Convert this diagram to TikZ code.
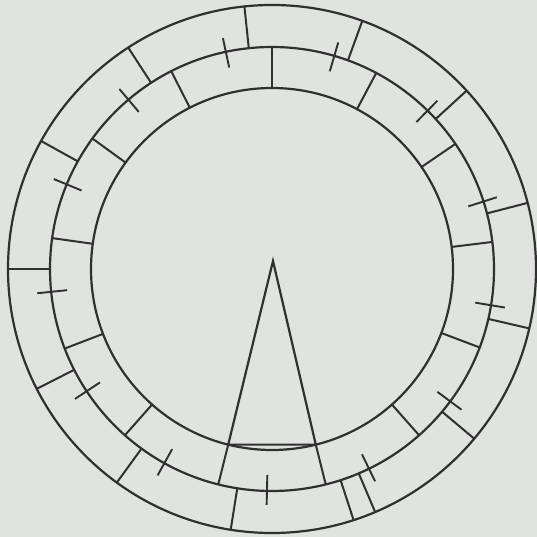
\documentclass[tikz,border=0pt]{standalone}
\definecolor{ink}{HTML}{303030}
\definecolor{paper}{HTML}{E1E3E1}
\begin{document}
\begin{tikzpicture}[x=1pt,y=1pt,
  ring/.style={line width=2.2pt, draw=ink},
  divider/.style={line width=2pt, draw=ink},
  tickmark/.style={line width=1.9pt, draw=ink},
  pointer/.style={line width=2.2pt, draw=ink, line join=miter}]
\fill[paper] (0,0) rectangle (537,537);
\useasboundingbox (0,0) rectangle (537,537);
\coordinate (c) at (272,268);
\begin{scope}[shift={(c)}]
  % circles
  \draw[ring] (0,0) circle[radius=264];
  \draw[ring] (0,0) circle[radius=222];
  \draw[ring] (0,0) circle[radius=181];
  % outer ring dividers
  \foreach \a in {14.5,42.5,70,96,123,151,180,207,234,261,288,293,320,347}
    \draw[divider] (\a:222) -- (\a:264);
  % inner ring dividers
  \foreach \a in {7,34.3,62,90,117,144,172,201,228.5,256,284,311.5,339.3}
    \draw[divider] (\a:181) -- (\a:222);
  % ticks across middle circle
  \foreach \a in {17.7,45.5,73.7,102,130.3,157.6,185.9,213.4,241,268.7,295.9,323.4,350.6}
    \draw[tickmark] (\a:206) -- (\a:236);
  % pointer
  \coordinate (apex) at (1,8);
  \coordinate (bl) at (256:181);
  \coordinate (br) at (284:181);
  \draw[pointer] (apex) -- (bl) -- (br) -- cycle;
\end{scope}
\end{tikzpicture}
\end{document}
